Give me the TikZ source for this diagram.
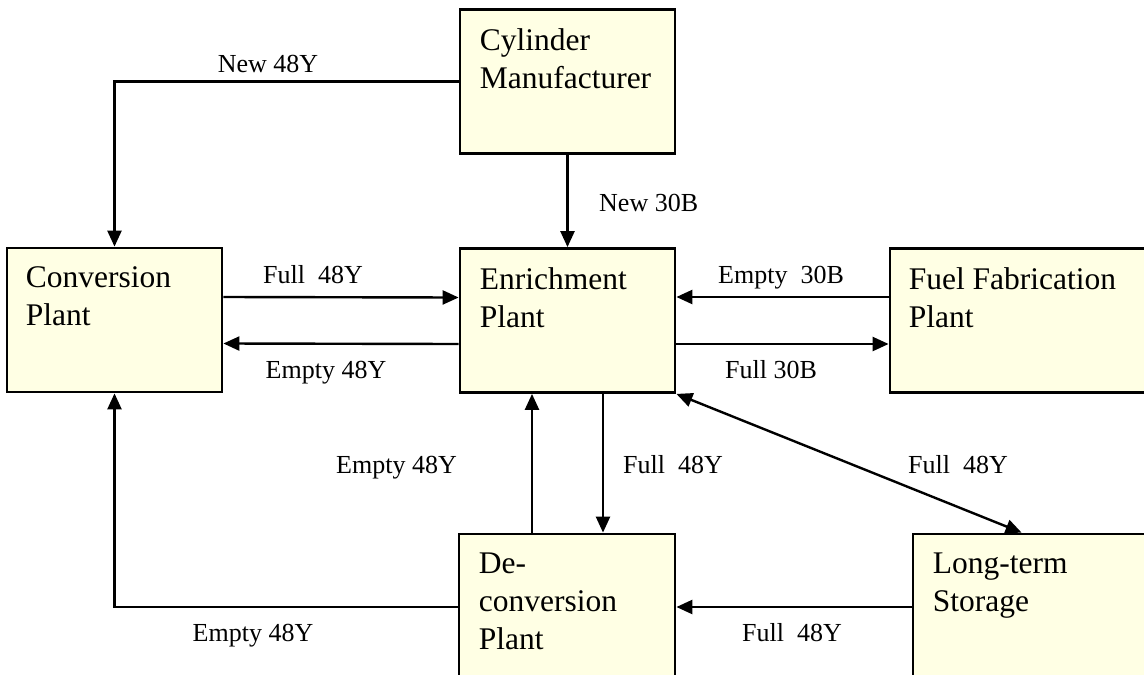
\documentclass[tikz,border=0pt]{standalone}
\usepackage{fontspec}
\setmainfont{Liberation Serif}
\usetikzlibrary{positioning, arrows.meta}
\definecolor{plantFill}{RGB}{255,255,228}

\begin{document}
\begin{tikzpicture}[
			x=1pt, y=-1pt,
			>={Triangle[length=16pt, width=14pt]},
			plant/.style={
				draw,
				line width=2.8pt,
				fill=plantFill,
				inner sep=0pt,
				minimum height=144pt
			},
			plantname/.style={
				anchor=north west,
				align=left,
				inner sep=0pt,
				font=\fontsize{31.5}{38}\selectfont
			},
			flow/.style={
				->,
				line width=2.4pt
			},
			tag/.style={
				inner sep=0pt,
				font=\fontsize{26}{31}\selectfont
			}
			]
			
			% Frame
			\useasboundingbox (0,0) rectangle (1144,675);
			\clip (0,0) rectangle (1144,675);
			
			% Plants (boxes)
			\node[plant, minimum width=215pt] (cyl) at (567.5,81.5) {};
			\node[plant, minimum width=215pt] (conv) at (114.5,320) {};
			\node[plant, minimum width=215pt] (enrich) at (567.5,320.5) {};
			\node[plant, minimum width=280pt] (fuel) at (1030,320.5) {};
			\node[plant, minimum width=216pt, minimum height=146pt] (deconv) at (567,607) {};
			\node[plant, minimum width=257pt, minimum height=146pt] (store) at (1041.5,607) {};
			
			% Plant names
			\node[plantname] (cyltext) at ([xshift=21pt, yshift=-20pt]cyl.north west) {Cylinder\\Manufacturer};
			\node[plantname] (convtext) at ([xshift=20pt, yshift=-20pt]conv.north west) {Conversion\\Plant};
			\node[plantname] (enrichtext) at ([xshift=21pt, yshift=-20pt]enrich.north west) {Enrichment\\Plant};
			\node[plantname] (fueltext) at ([xshift=20pt, yshift=-20pt]fuel.north west) {Fuel Fabrication\\Plant};
			\node[plantname] (deconvtext) at ([xshift=21pt, yshift=-20pt]deconv.north west) {De-\\conversion\\Plant};
			\node[plantname] (storetext) at ([xshift=21pt, yshift=-20pt]store.north west) {Long-term\\Storage};
			
			% Cylinder flows
			\draw[flow] (cyl.west) -| (conv.north);
			\draw[flow] (cyl.south) -- (enrich.north);
			\draw[flow] ([yshift=23pt]conv.east) -- ([yshift=23pt]enrich.west);
			\draw[flow] ([yshift=-23.5pt]enrich.west) -- ([yshift=-23.5pt]conv.east);
			\draw[flow] ([yshift=23.5pt]fuel.west) -- ([yshift=23.5pt]enrich.east);
			\draw[flow] ([yshift=-23.5pt]enrich.east) -- ([yshift=-23.5pt]fuel.west);
			\draw[flow] ([xshift=35.5pt]enrich.south) -- ([xshift=36pt]deconv.north);
			\draw[flow] ([xshift=-35pt]deconv.north) -- ([xshift=-35.5pt]enrich.south);
			\draw[flow] (deconv.west) -| (conv.south);
			\draw[flow] (store.west) -- (deconv.east);
			\draw[flow, <->] (enrich.south east) -- ([xshift=110pt]store.north west);
			
			% Flow labels
			\node[tag, anchor=base] (newY) at (268,72) {New 48Y};
			\node[tag, anchor=base west] (newB) at (599,211) {New 30B};
			\node[tag, anchor=base] (fullConv) at (313,283) {Full\ \ 48Y};
			\node[tag, anchor=base] (emptyConv) at (326,378) {Empty 48Y};
			\node[tag, anchor=base] (emptyFuel) at (781,283) {Empty\ \ 30B};
			\node[tag, anchor=base] (fullFuel) at (771,378) {Full 30B};
			\node[tag, anchor=base east] (emptyDe) at (457,473) {Empty 48Y};
			\node[tag, anchor=base west] (fullDe) at (623,473) {Full\ \ 48Y};
			\node[tag, anchor=base] (fullStore) at (958,473) {Full\ \ 48Y};
			\node[tag, anchor=base] (emptyBack) at (253,641) {Empty 48Y};
			\node[tag, anchor=base] (fullBack) at (792,641) {Full\ \ 48Y};
			
		\end{tikzpicture}
\end{document}
